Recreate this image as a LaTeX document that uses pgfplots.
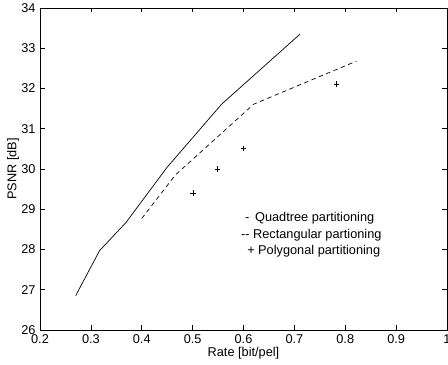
\documentclass[border=0pt]{standalone}
\usepackage{pgfplots}
\pgfplotsset{compat=1.18}
\usepackage{fontspec}
\setmainfont{Liberation Sans}
\begin{document}
\fontsize{12.8}{15}\selectfont
\begin{tikzpicture}
\begin{axis}[
  scale only axis, width=407bp, height=322bp,
  xmin=0.2, xmax=1, ymin=26, ymax=34,
  xtick={0.2,0.3,0.4,0.5,0.6,0.7,0.8,0.9,1},
  xticklabels={0.2,0.3,0.4,0.5,0.6,0.7,0.8,0.9,1},
  ytick={26,27,28,29,30,31,32,33,34},
  tick align=inside,
  major tick length=4.5bp,
  axis line style={line width=0.9pt},
  every tick/.style={black, line width=0.6pt},
  /pgf/number format/assume math mode=true,
  ticklabel style={font=\fontsize{12.8}{15}\selectfont},
  xlabel={Rate [bit/pel]}, ylabel={PSNR [dB]},
  every axis x label/.style={at={(rel axis cs:0.5,0)}, yshift=-23bp, anchor=center, font=\fontsize{12.8}{15}\selectfont},
  every axis y label/.style={at={(rel axis cs:0,0.5)}, xshift=-27bp, rotate=90, anchor=center, font=\fontsize{12.8}{15}\selectfont},
  clip=false,
]
\addplot[black, line width=0.7pt] coordinates {
  (0.27,26.85) (0.317,27.97) (0.369,28.67) (0.449,30.03) (0.557,31.61) (0.711,33.35)
};
\addplot[black, line width=0.7pt, dash pattern=on 4.5pt off 3.5pt] coordinates {
  (0.40,28.77) (0.466,29.85) (0.62,31.61) (0.822,32.68)
};
\addplot[black, only marks, mark=+, mark size=2.7pt, line width=0.7pt] coordinates {
  (0.501,29.4) (0.549,30.0) (0.6,30.51) (0.783,32.11)
};
\node[anchor=west, inner sep=0pt] at (axis cs:0.603,28.78) {-\, Quadtree partitioning};
\node[anchor=west, inner sep=0pt] at (axis cs:0.595,28.36) {-{}- Rectangular partioning};
\node[anchor=west, inner sep=0pt] at (axis cs:0.607,27.96) {+ Polygonal partitioning};
\end{axis}
\pgfresetboundingbox
\path[use as bounding box] (-40bp,-35bp) rectangle (408bp,330bp);
\end{tikzpicture}
\end{document}
